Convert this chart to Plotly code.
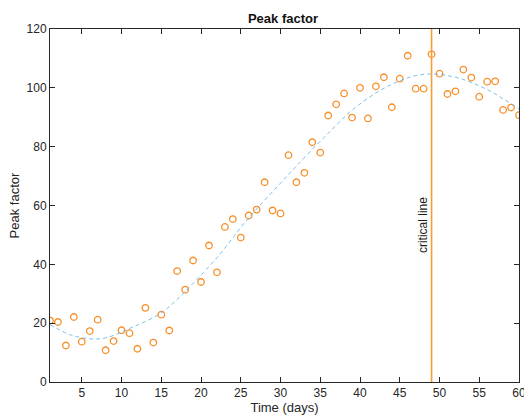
import plotly.graph_objects as go

days = list(range(1, 61))
peak = [20.9, 20.4, 12.4, 22.1, 13.7, 17.3, 21.2, 10.8, 13.9, 17.6,
        16.6, 11.3, 25.2, 13.4, 22.9, 17.5, 37.7, 31.4, 41.3, 34.0,
        46.4, 37.3, 52.7, 55.4, 49.1, 56.6, 58.6, 67.9, 58.3, 57.3,
        77.1, 67.9, 71.1, 81.5, 78.0, 90.6, 94.4, 98.1, 89.9, 100.0,
        89.6, 100.5, 103.6, 93.4, 103.1, 110.9, 99.7, 99.7, 111.4, 104.8,
        97.9, 98.8, 106.2, 103.5, 97.0, 102.1, 102.2, 92.5, 93.3, 90.7]

fit_x = [1, 3.5, 6, 8, 11.5, 15, 18, 22, 26, 30, 32, 35.5, 39.5, 44, 48, 52, 56, 60]
fit_y = [19.5, 16.1, 14.7, 15.0, 18.8, 23.5, 30.8, 42.3, 55.8, 67.6, 73.4, 83.2, 93.5, 101.2, 104.6, 103.6, 99.4, 92.8]

critical_x = 49
critical_label = "critical line"
orange = "rgb(247,143,40)"
line_orange = "rgb(250,155,55)"
blue = "rgb(110,185,228)"
axis_col = "#262626"

fig = go.Figure()
fig.add_trace(go.Scatter(x=days, y=peak, mode="markers",
                         marker=dict(symbol="circle-open", size=6.5, color=orange,
                                     line=dict(width=1.3, color=orange)),
                         showlegend=False))
fig.add_trace(go.Scatter(x=fit_x, y=fit_y, mode="lines", line_shape="spline",
                         line=dict(color=blue, width=0.9, dash="4px,3px"),
                         showlegend=False))
fig.add_trace(go.Scatter(x=[critical_x, critical_x], y=[0, 120], mode="lines",
                         line=dict(color=line_orange, width=1.6), showlegend=False))
fig.add_annotation(x=critical_x, y=43, text=critical_label, textangle=-90,
                   xanchor="right", yanchor="bottom", showarrow=False, xshift=0,
                   font=dict(family="Liberation Sans, Arial", size=12, color="#1a1a1a"))

fig.update_layout(
    width=524, height=419,
    margin=dict(l=50, r=5, t=29, b=37, autoexpand=False),
    paper_bgcolor="white", plot_bgcolor="white",
    font=dict(family="Liberation Sans, Arial", size=12, color=axis_col),
    title=dict(text="<b>Peak factor</b>", x=0.54, xanchor="center", y=0.955, yanchor="middle",
               font=dict(size=13, color="#111111")),
)
fig.update_xaxes(range=[1, 60], tickvals=list(range(5, 61, 5)), ticks="inside", ticklen=5,
                 tickcolor=axis_col, showline=True, linecolor=axis_col, linewidth=1,
                 mirror="ticks", showgrid=False, zeroline=False, ticklabeloverflow="allow",
                 title=dict(text="Time (days)", standoff=3, font=dict(size=13)),
                 automargin=False)
fig.update_yaxes(range=[0, 120], tickvals=list(range(0, 121, 20)), ticks="inside", ticklen=5,
                 tickcolor=axis_col, showline=True, linecolor=axis_col, linewidth=1,
                 mirror="ticks", showgrid=False, zeroline=False,
                 title=dict(text="Peak factor", standoff=4, font=dict(size=13)),
                 automargin=False)

fig.write_html("out.html")
